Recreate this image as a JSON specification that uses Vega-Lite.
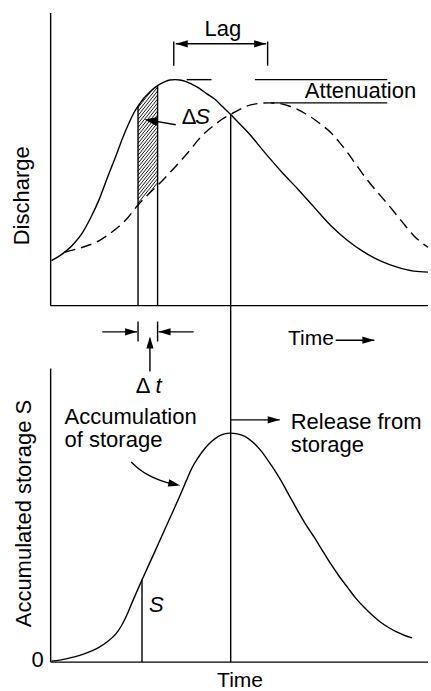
{
  "$schema": "https://vega.github.io/schema/vega-lite/v6.json",
  "width": 431,
  "height": 691,
  "autosize": {"type": "fit", "contains": "padding"},
  "padding": 0,
  "background": "white",
  "view": {"stroke": null},
  "config": {"font": "Liberation Sans"},
  "datasets": {
    "curves": [
      {"id": "in", "x": 51.7, "y": 261.7}, {"id": "in", "x": 60, "y": 257}, {"id": "in", "x": 66.7, "y": 252}, {"id": "in", "x": 75, "y": 244}, {"id": "in", "x": 83.3, "y": 233.3}, {"id": "in", "x": 91.7, "y": 218}, {"id": "in", "x": 100, "y": 200}, {"id": "in", "x": 108.3, "y": 178}, {"id": "in", "x": 116.7, "y": 156.7}, {"id": "in", "x": 123.3, "y": 139}, {"id": "in", "x": 130, "y": 123.3}, {"id": "in", "x": 135, "y": 113}, {"id": "in", "x": 139, "y": 106.7}, {"id": "in", "x": 145, "y": 98.5}, {"id": "in", "x": 150, "y": 93.3}, {"id": "in", "x": 154, "y": 89.5}, {"id": "in", "x": 158.7, "y": 86}, {"id": "in", "x": 163, "y": 83.5}, {"id": "in", "x": 166.7, "y": 81.7}, {"id": "in", "x": 171, "y": 80.4}, {"id": "in", "x": 176.7, "y": 80}, {"id": "in", "x": 181, "y": 80.3}, {"id": "in", "x": 186.7, "y": 81.7}, {"id": "in", "x": 193, "y": 84.5}, {"id": "in", "x": 200, "y": 88.3}, {"id": "in", "x": 208, "y": 94}, {"id": "in", "x": 216.7, "y": 100}, {"id": "in", "x": 224, "y": 107}, {"id": "in", "x": 232.3, "y": 115}, {"id": "in", "x": 241, "y": 124}, {"id": "in", "x": 250, "y": 133.3}, {"id": "in", "x": 266.7, "y": 153.3}, {"id": "in", "x": 283, "y": 172}, {"id": "in", "x": 300, "y": 190}, {"id": "in", "x": 316.7, "y": 208.5}, {"id": "in", "x": 333.3, "y": 226.7}, {"id": "in", "x": 350, "y": 241.5}, {"id": "in", "x": 366.7, "y": 253.3}, {"id": "in", "x": 383, "y": 262}, {"id": "in", "x": 400, "y": 268.3}, {"id": "in", "x": 416.7, "y": 272.3}, {"id": "in", "x": 431, "y": 273.3},
      {"id": "st", "x": 51.7, "y": 664}, {"id": "st", "x": 60, "y": 663}, {"id": "st", "x": 66.7, "y": 661.7}, {"id": "st", "x": 75, "y": 659.8}, {"id": "st", "x": 83.3, "y": 657.3}, {"id": "st", "x": 91.7, "y": 654}, {"id": "st", "x": 100, "y": 650}, {"id": "st", "x": 108, "y": 644.5}, {"id": "st", "x": 116.7, "y": 636.7}, {"id": "st", "x": 122, "y": 629}, {"id": "st", "x": 126.7, "y": 620}, {"id": "st", "x": 135, "y": 600.5}, {"id": "st", "x": 143.3, "y": 581.7}, {"id": "st", "x": 155, "y": 556}, {"id": "st", "x": 166.7, "y": 530}, {"id": "st", "x": 174, "y": 514}, {"id": "st", "x": 181.7, "y": 496.7}, {"id": "st", "x": 187.5, "y": 483}, {"id": "st", "x": 193.3, "y": 470}, {"id": "st", "x": 200, "y": 459}, {"id": "st", "x": 206.7, "y": 450}, {"id": "st", "x": 213, "y": 443.5}, {"id": "st", "x": 220, "y": 438.3}, {"id": "st", "x": 226, "y": 435.8}, {"id": "st", "x": 232.3, "y": 435}, {"id": "st", "x": 239, "y": 435.8}, {"id": "st", "x": 246.7, "y": 438.3}, {"id": "st", "x": 255, "y": 444.5}, {"id": "st", "x": 263.3, "y": 453.3}, {"id": "st", "x": 273, "y": 467}, {"id": "st", "x": 283.3, "y": 483.3}, {"id": "st", "x": 291.7, "y": 498.5}, {"id": "st", "x": 300, "y": 513.3}, {"id": "st", "x": 308, "y": 527}, {"id": "st", "x": 316.7, "y": 540}, {"id": "st", "x": 325, "y": 553.5}, {"id": "st", "x": 333.3, "y": 566.7}, {"id": "st", "x": 341.7, "y": 579}, {"id": "st", "x": 350, "y": 590}, {"id": "st", "x": 358, "y": 600.5}, {"id": "st", "x": 366.7, "y": 610}, {"id": "st", "x": 375, "y": 618}, {"id": "st", "x": 383.3, "y": 625}, {"id": "st", "x": 391.7, "y": 630.5}, {"id": "st", "x": 400, "y": 635}, {"id": "st", "x": 407, "y": 638}, {"id": "st", "x": 415, "y": 640.7},
      {"id": "ca", "x": 132, "y": 464}, {"id": "ca", "x": 140, "y": 471}, {"id": "ca", "x": 150, "y": 477.5}, {"id": "ca", "x": 160, "y": 482}, {"id": "ca", "x": 170, "y": 485.3}, {"id": "ca", "x": 178, "y": 487}
    ],
    "outflow": [
      {"x": 65, "y": 253.3}, {"x": 75, "y": 250.7}, {"x": 83.3, "y": 248.3}, {"x": 92, "y": 245.3}, {"x": 100, "y": 241.7}, {"x": 108, "y": 236.5}, {"x": 116.7, "y": 230}, {"x": 128, "y": 219.5}, {"x": 138.3, "y": 206.7}, {"x": 148, "y": 196.5}, {"x": 158.3, "y": 186.7}, {"x": 170, "y": 174.5}, {"x": 183.3, "y": 160}, {"x": 192, "y": 150}, {"x": 200, "y": 140}, {"x": 208, "y": 132}, {"x": 216.7, "y": 125}, {"x": 224, "y": 119.5}, {"x": 232.3, "y": 115}, {"x": 241, "y": 110}, {"x": 250, "y": 106}, {"x": 260, "y": 104}, {"x": 270, "y": 103.3}, {"x": 277, "y": 103.5}, {"x": 283.3, "y": 104.3}, {"x": 291, "y": 106.5}, {"x": 300, "y": 110}, {"x": 308, "y": 114.5}, {"x": 316.7, "y": 120}, {"x": 325, "y": 126.3}, {"x": 333.3, "y": 133.3}, {"x": 341, "y": 142}, {"x": 350, "y": 153.3}, {"x": 358, "y": 164.5}, {"x": 366.7, "y": 176.7}, {"x": 375, "y": 187}, {"x": 383.3, "y": 196.7}, {"x": 391, "y": 205.7}, {"x": 400, "y": 216.7}, {"x": 408, "y": 226.5}, {"x": 416.7, "y": 236.7}, {"x": 423, "y": 242.5}, {"x": 431, "y": 248.3}
    ],
    "segments": [
      {"x": 51, "y": 13, "x2": 51, "y2": 307},
      {"x": 51, "y": 307, "x2": 431, "y2": 307},
      {"x": 51, "y": 370, "x2": 51, "y2": 665},
      {"x": 51, "y": 665, "x2": 431, "y2": 665},
      {"x": 139, "y": 106.7, "x2": 139, "y2": 307},
      {"x": 158.7, "y": 86, "x2": 158.7, "y2": 307},
      {"x": 232.3, "y": 115, "x2": 232.3, "y2": 665},
      {"x": 143, "y": 582, "x2": 143, "y2": 665},
      {"x": 175, "y": 41.7, "x2": 175, "y2": 66},
      {"x": 269.5, "y": 41.7, "x2": 269.5, "y2": 66},
      {"x": 177, "y": 44, "x2": 268, "y2": 44},
      {"x": 188, "y": 80, "x2": 213, "y2": 80},
      {"x": 256.7, "y": 80, "x2": 390, "y2": 80},
      {"x": 273, "y": 103.3, "x2": 390, "y2": 103.3},
      {"x": 177, "y": 125.3, "x2": 150, "y2": 120.6},
      {"x": 103, "y": 333.3, "x2": 138, "y2": 333.3},
      {"x": 139, "y": 323, "x2": 139, "y2": 343},
      {"x": 158.7, "y": 323, "x2": 158.7, "y2": 343},
      {"x": 195, "y": 333.3, "x2": 159.7, "y2": 333.3},
      {"x": 151, "y": 373, "x2": 151, "y2": 340},
      {"x": 338, "y": 341.7, "x2": 377, "y2": 341.7},
      {"x": 232.3, "y": 421.7, "x2": 281.7, "y2": 421.7}
    ],
    "hatch": [
      {"x": 139, "y": 108, "x2": 152.3, "y2": 91.4},
      {"x": 139, "y": 112, "x2": 158.7, "y2": 87.4},
      {"x": 139, "y": 116, "x2": 158.7, "y2": 91.4},
      {"x": 139, "y": 120, "x2": 158.7, "y2": 95.4},
      {"x": 139, "y": 124, "x2": 158.7, "y2": 99.4},
      {"x": 139, "y": 128, "x2": 158.7, "y2": 103.4},
      {"x": 139, "y": 132, "x2": 158.7, "y2": 107.4},
      {"x": 139, "y": 136, "x2": 158.7, "y2": 111.4},
      {"x": 139, "y": 140, "x2": 158.7, "y2": 115.4},
      {"x": 139, "y": 144, "x2": 158.7, "y2": 119.4},
      {"x": 139, "y": 148, "x2": 158.7, "y2": 123.4},
      {"x": 139, "y": 152, "x2": 158.7, "y2": 127.4},
      {"x": 139, "y": 156, "x2": 158.7, "y2": 131.4},
      {"x": 139, "y": 160, "x2": 158.7, "y2": 135.4},
      {"x": 139, "y": 164, "x2": 158.7, "y2": 139.4},
      {"x": 139, "y": 168, "x2": 158.7, "y2": 143.4},
      {"x": 139, "y": 172, "x2": 158.7, "y2": 147.4},
      {"x": 139, "y": 176, "x2": 158.7, "y2": 151.4},
      {"x": 139, "y": 180, "x2": 158.7, "y2": 155.4},
      {"x": 139, "y": 184, "x2": 158.7, "y2": 159.4},
      {"x": 139, "y": 188, "x2": 158.7, "y2": 163.4},
      {"x": 139, "y": 192, "x2": 158.7, "y2": 167.4},
      {"x": 139, "y": 196, "x2": 158.7, "y2": 171.4},
      {"x": 139, "y": 200, "x2": 158.7, "y2": 175.4},
      {"x": 139, "y": 204, "x2": 158.7, "y2": 179.4},
      {"x": 149.3, "y": 195.1, "x2": 158.7, "y2": 183.4}
    ],
    "heads": [
      {"x": 177, "y": 44, "dir": 180},
      {"x": 268, "y": 44, "dir": 0},
      {"x": 377, "y": 341.7, "dir": 0},
      {"x": 138, "y": 333.3, "dir": 0},
      {"x": 159.7, "y": 333.3, "dir": 180},
      {"x": 151, "y": 338, "dir": 270},
      {"x": 281.7, "y": 421.7, "dir": 0},
      {"x": 181.5, "y": 487.5, "dir": 12}
    ],
    "bighead": [
      {"x": 145.5, "y": 120, "dir": 189}
    ],
    "labelsLeft": [
      {"x": 307, "y": 98.3, "t": "Attenuation"},
      {"x": 65, "y": 426, "t": "Accumulation"},
      {"x": 65, "y": 449.3, "t": "of storage"},
      {"x": 292.7, "y": 430.7, "t": "Release from"},
      {"x": 292.7, "y": 454.3, "t": "storage"},
      {"x": 183, "y": 125, "t": "Δ"},
      {"x": 136.7, "y": 395, "t": "Δ"}
    ],
    "labelsCenter": [
      {"x": 224.5, "y": 36.5, "t": "Lag"},
      {"x": 38, "y": 670, "t": "0"}
    ],
    "labelsTime": [
      {"x": 290, "y": 346.7, "t": "Time", "a": "left"},
      {"x": 241.7, "y": 690, "t": "Time", "a": "center"}
    ],
    "labelsItalic": [
      {"x": 196.7, "y": 125, "t": "S"},
      {"x": 156.5, "y": 395, "t": "t"},
      {"x": 150, "y": 615, "t": "S"}
    ],
    "labelsRot": [
      {"x": 29.3, "y": 196.7, "t": "Discharge"},
      {"x": 31.7, "y": 515.8, "t": "Accumulated storage S"}
    ]
  },
  "encoding": {
    "x": {"field": "x", "type": "quantitative", "scale": {"domain": [0, 431], "nice": false, "zero": false}, "axis": null},
    "y": {"field": "y", "type": "quantitative", "scale": {"domain": [0, 691], "nice": false, "zero": false, "reverse": true}, "axis": null}
  },
  "layer": [
    {
      "data": {"name": "hatch"},
      "mark": {"type": "rule", "stroke": "black", "strokeWidth": 0.9},
      "encoding": {"x2": {"field": "x2"}, "y2": {"field": "y2"}}
    },
    {
      "data": {"name": "curves"},
      "mark": {"type": "line", "stroke": "black", "strokeWidth": 1.4, "interpolate": "monotone"},
      "encoding": {"detail": {"field": "id"}}
    },
    {
      "data": {"name": "outflow"},
      "mark": {"type": "line", "stroke": "black", "strokeWidth": 1.4, "interpolate": "monotone", "strokeDash": [11, 6]},
      "encoding": {}
    },
    {
      "data": {"name": "segments"},
      "mark": {"type": "rule", "stroke": "black", "strokeWidth": 1.4},
      "encoding": {"x2": {"field": "x2"}, "y2": {"field": "y2"}}
    },
    {
      "data": {"name": "heads"},
      "mark": {"type": "point", "shape": "M0,0 L-2,-0.6 L-2,0.6 Z", "size": 144, "filled": true, "fill": "black", "stroke": null, "opacity": 1},
      "encoding": {"angle": {"field": "dir", "type": "quantitative", "scale": null}}
    },
    {
      "data": {"name": "bighead"},
      "mark": {"type": "point", "shape": "M0,0 L-2,-0.7 L-2,0.7 Z", "size": 169, "filled": true, "fill": "black", "stroke": null, "opacity": 1},
      "encoding": {"angle": {"field": "dir", "type": "quantitative", "scale": null}}
    },
    {
      "data": {"name": "labelsLeft"},
      "mark": {"type": "text", "align": "left", "baseline": "alphabetic", "fontSize": 22, "font": "Liberation Sans", "fill": "black"},
      "encoding": {"text": {"field": "t"}}
    },
    {
      "data": {"name": "labelsCenter"},
      "mark": {"type": "text", "align": "center", "baseline": "alphabetic", "fontSize": 22, "font": "Liberation Sans", "fill": "black"},
      "encoding": {"text": {"field": "t"}}
    },
    {
      "data": {"name": "labelsTime"},
      "transform": [{"filter": "datum.a == 'left'"}],
      "mark": {"type": "text", "align": "left", "baseline": "alphabetic", "fontSize": 21, "font": "Liberation Sans", "fill": "black"},
      "encoding": {"text": {"field": "t"}}
    },
    {
      "data": {"name": "labelsTime"},
      "transform": [{"filter": "datum.a == 'center'"}],
      "mark": {"type": "text", "align": "center", "baseline": "alphabetic", "fontSize": 21, "font": "Liberation Sans", "fill": "black"},
      "encoding": {"text": {"field": "t"}}
    },
    {
      "data": {"name": "labelsItalic"},
      "mark": {"type": "text", "align": "left", "baseline": "alphabetic", "fontSize": 22, "fontStyle": "italic", "font": "Liberation Sans", "fill": "black"},
      "encoding": {"text": {"field": "t"}}
    },
    {
      "data": {"name": "labelsRot"},
      "mark": {"type": "text", "align": "center", "baseline": "alphabetic", "angle": 270, "fontSize": 22, "font": "Liberation Sans", "fill": "black"},
      "encoding": {"text": {"field": "t"}}
    }
  ]
}
